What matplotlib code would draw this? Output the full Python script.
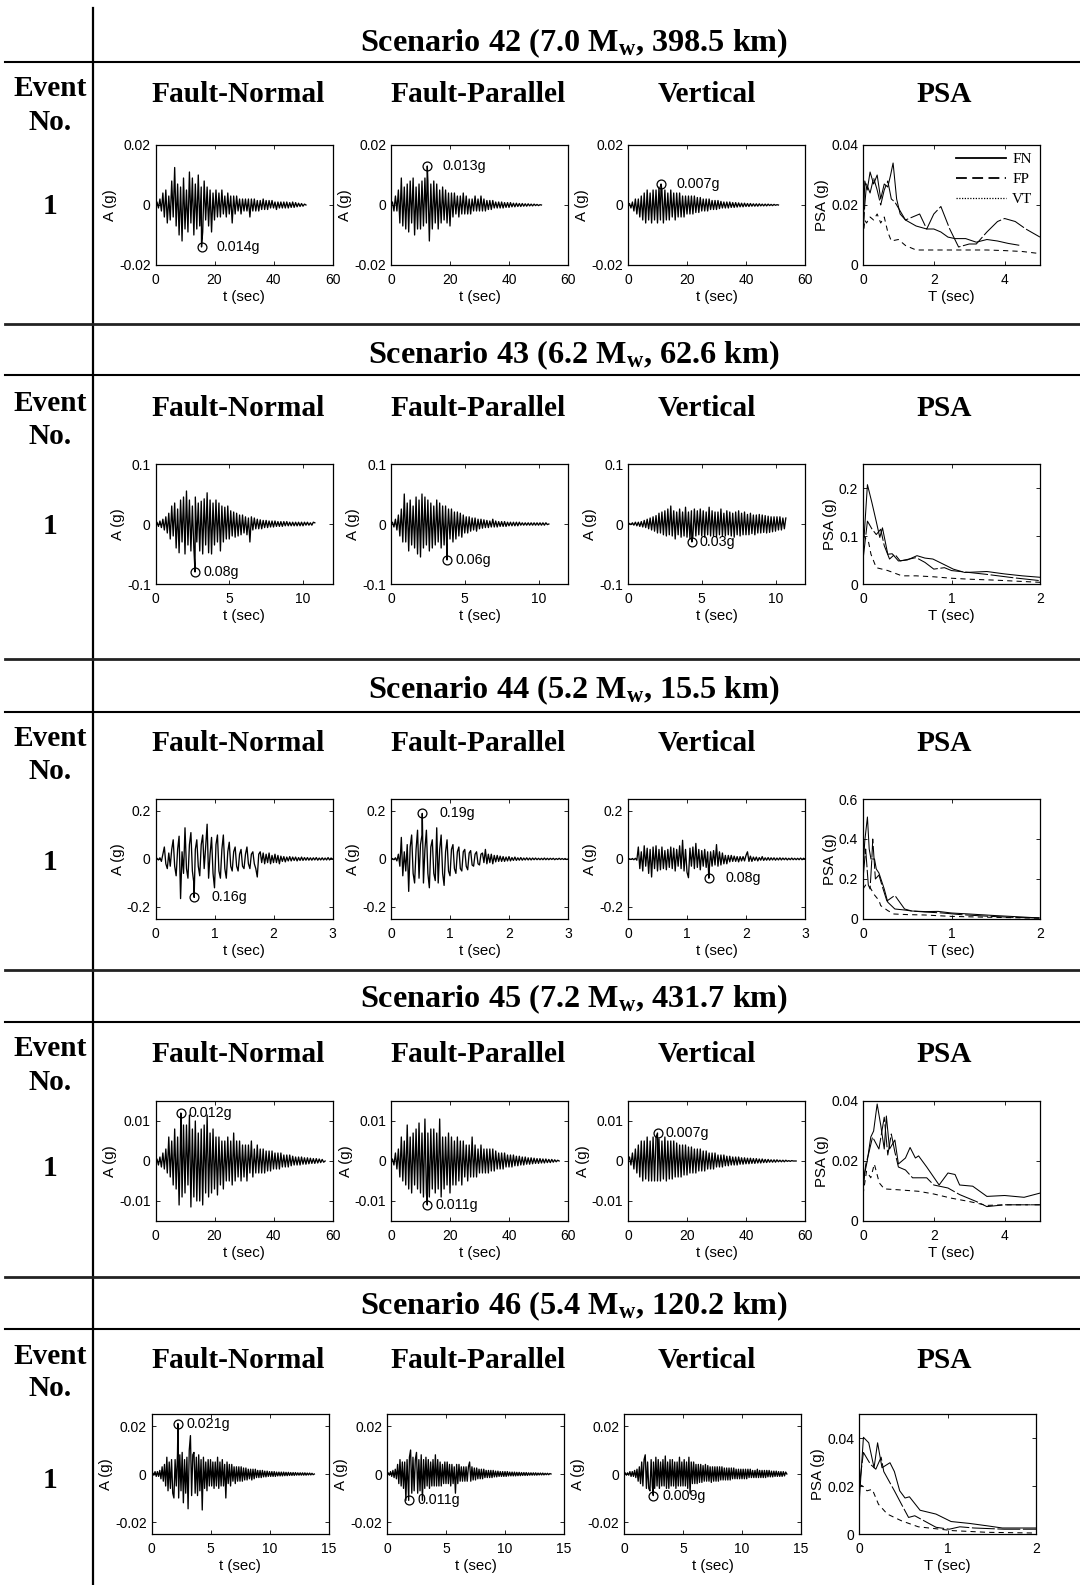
import numpy as np
import matplotlib
matplotlib.use('Agg')
import matplotlib.pyplot as plt
from matplotlib.lines import Line2D
from matplotlib.ticker import FuncFormatter

# ---------------- data ----------------
scenario_ids = [42, 43, 44, 45, 46]
magnitudes = [7.0, 6.2, 5.2, 7.2, 5.4]
distances = [398.5, 62.6, 15.5, 431.7, 120.2]
event_numbers = ['1', '1', '1', '1', '1']
column_titles = ['Fault-Normal', 'Fault-Parallel', 'Vertical', 'PSA']
psa_legend = ['FN', 'FP', 'VT']

# record durations (s) of FN, FP, VT
dur42 = [51.0, 51.0, 51.0]
dur43 = [10.8, 10.7, 10.7]
dur44 = [3.0, 3.0, 3.0]
dur45 = [57.5, 57.0, 57.0]
dur46 = [13.8, 13.9, 13.8]

# acceleration histories in mg (thousandths of g), uniformly sampled over each record
fn42 = [0, 1, -1, 2, -2, 4, -4, 5, -6, 3,
        -5, 8, -4, 12.5, -7, 7, -10, 6, -12, 9,
        -8, 5, -9, 11, -6, 9, -10, 7, -8, 10,
        -7, 6, -9, 8, -5, 6, -7, 5, -9, 4,
        -5, 5, -4, 4, -4, 5, -3, 3, -4, 4,
        -3, 3, -6, 3, -3, 3, -2, 2, -3, 2,
        -2, 2, -2, 2, -4, 2, -2, 2, -2, 1.5,
        -2, 1.5, -1.5, 2, -1.5, 1.5, -1.5, 1.5, -1, 1.5,
        -1, 1, -1.5, 1, -1, 1, -1, 1, -1, 1,
        -1, 0.8, -0.8, 1, -0.8, 0.8, -0.6, 0.6, -0.5, 0.5,
        -0.4, 0.3, 0]
fp42 = [0, 1, -2, 3, -2, 5, -6, 9, -7, 6,
        -8, 7, -9, 8, -6, 9, -10, 6, -8, 7,
        -8, 8, -7, 9, -6, 8, -12, 7, -8, 8,
        -6, 7, -8, 5, -6, 6, -5, 5, -6, 4,
        -7, 4, -4, 4, -3, 3, -4, 3, -3, 4,
        -3, 3, -3, 2, -3, 2, -2, 3, -2, 2,
        -2, 3, -2, 2, -2, 1.5, -1.5, 1.5, -1.5, 1.5,
        -1, 1, -1, 1, -1, 1, -1, 0.8, -0.8, 0.8,
        -0.8, 0.8, -0.6, 0.6, -0.6, 0.6, -0.5, 0.5, -0.5, 0.5,
        -0.4, 0.4, -0.4, 0.4, -0.3, 0.3, -0.3, 0.3, -0.2, 0.2,
        -0.2, 0.1, 0]
vt42 = [0, 0.5, -1, 1, -2, 2, -3, 2, -4, 3,
        -5, 4, -6, 5, -5, 4, -6, 5, -5, 5,
        -6, 6, -5, 5, -6, 5, -5, 4, -5, 5,
        -4, 4, -5, 4, -4, 4, -4, 3, -4, 3,
        -3, 3, -3, 3, -3, 3, -2.5, 2.5, -2.5, 2.5,
        -2, 2, -2, 2, -2, 2, -1.5, 1.5, -1.5, 1.5,
        -1.5, 1.5, -1.2, 1.2, -1, 1, -1, 1, -1, 1,
        -0.8, 0.8, -0.8, 0.8, -0.7, 0.7, -0.6, 0.6, -0.6, 0.6,
        -0.5, 0.5, -0.5, 0.5, -0.4, 0.4, -0.4, 0.4, -0.4, 0.4,
        -0.3, 0.3, -0.3, 0.3, -0.3, 0.3, -0.2, 0.2, -0.2, 0.2,
        -0.1, 0.1, 0]

fn43 = [0, 3, -4, 5, -6, 8, -10, 12, -15, 18,
        -25, 30, -20, 35, -40, 25, -48, 40, -30, 45,
        -50, 55, -35, 40, -45, 30, -40, 45, -30, 35,
        -45, 38, -50, 42, -35, 52, -48, 40, -50, 35,
        -35, 40, -30, 35, -45, 30, -30, 28, -25, 30,
        -25, 22, -20, 20, -22, 18, -20, 15, -18, 15,
        -15, 12, -18, 10, -30, 12, -10, 10, -8, 8,
        -8, 7, -8, 6, -6, 6, -6, 5, -5, 5,
        -5, 5, -4, 4, -4, 4, -4, 4, -3, 4,
        -3, 3, -3, 3, -3, 3, -3, 3, -3, 3,
        -3, 3, -2, 3, -2, 2, -2, 3, 2]
fp43 = [0, 3, -5, 8, -10, 15, -20, 25, -30, 50,
        -30, 35, -45, 40, -35, 30, -40, 45, -50, 40,
        -55, 50, -40, 45, -35, 40, -45, 35, -40, 30,
        -35, 40, -30, 35, -40, 30, -35, 30, -30, 25,
        -25, 25, -30, 20, -25, 20, -20, 18, -22, 15,
        -15, 12, -15, 12, -12, 10, -10, 10, -12, 8,
        -8, 8, -7, 7, -6, 6, -6, 5, -5, 8,
        -5, 5, -5, 4, -4, 4, -4, 4, -4, 3,
        -3, 3, -3, 3, -3, 3, -3, 3, -2, 2,
        -2, 2, -2, 2, -2, 2, -2, 2, -2, 2,
        -2, 2, -2, 2, -2, 2, -1, 0]
vt43 = [0, 1, -1, 2, -2, 3, -3, 3, -4, 4,
        -5, 6, -6, 8, -8, 10, -10, 12, -12, 14,
        -15, 18, -15, 20, -18, 22, -20, 25, -18, 30,
        -20, 22, -25, 20, -18, 25, -22, 20, -20, 28,
        -22, 20, -25, 22, -20, 25, -20, 22, -18, 25,
        -20, 22, -22, 20, -18, 28, -20, 22, -20, 20,
        -22, 20, -18, 25, -20, 18, -20, 22, -18, 20,
        -20, 18, -22, 20, -18, 22, -20, 18, -18, 20,
        -18, 16, -18, 18, -16, 15, -18, 15, -15, 16,
        -15, 15, -14, 14, -15, 13, -14, 12, -13, 12,
        -12, 12, -10, 12, -10, 10, -8, 10]

fn44 = [0, 3, -4, 5, -10, 20, 50, -20, -40, 25,
        -30, 40, 80, -30, -70, 40, 95, -165, 30, -60,
        130, -40, -80, 60, 110, -50, -100, 40, 80, -30,
        -70, 60, 100, -40, 50, 145, -80, 20, 90, -60,
        -120, 60, 100, -50, -80, 40, 100, -40, -80, 30,
        70, -30, -50, 30, 50, -30, -50, 20, 40, -30,
        -40, 20, 50, -20, -40, 20, 30, -20, -40, -75,
        20, 30, -15, 25, -20, 20, -15, 25, -20, 15,
        -15, 20, -15, 15, -20, 12, -10, 10, -12, 8,
        -8, 10, -8, 8, -6, 8, -8, 6, -6, 8,
        -6, 6, -5, 6, -5, 5, -5, 5, -4, 6,
        -5, 4, -4, 5, -4, 4, -4, 6, -4, 4,
        0]
fp44 = [0, 2, -3, 5, -8, 20, -30, 90, -70, 30,
        -50, 60, -135, 50, 100, -60, -100, 40, 120, -80,
        60, 100, -100, 40, 120, -60, -120, 50, 80, -60,
        -90, 130, -100, 40, 100, -60, -110, 30, 80, -50,
        -70, 40, 60, -40, -60, 30, 50, -40, -50, 30,
        40, -30, -45, 25, 35, -25, -30, 20, 30, -20,
        -25, 20, 25, -15, 40, -20, 20, -15, 20, -20,
        15, -12, 15, -10, 12, -10, 10, -10, 8, -8,
        10, -8, 6, -6, 8, -6, 5, -5, 6, -5,
        4, -4, 5, -4, 4, -4, 4, -3, 4, -3,
        3, -3, 3, -3, 4, -3, 3, -3, 3, -2,
        3, -3, 2, -2, 3, -2, 2, -2, 2, -2,
        0]
vt44 = [0, 1, -2, 2, -3, 3, -5, 50, -40, 30,
        -50, 55, -30, 45, -60, 40, -75, 50, -40, 55,
        -50, 40, -45, 50, -40, 35, -45, 40, -35, 50,
        -40, 45, -50, 40, -30, 55, -40, 78, -50, 40,
        -55, -78, 45, -30, 50, -40, 65, -35, 40, -45,
        35, -30, 40, -35, 30, -50, 30, -30, 35, -25,
        60, -30, 30, -25, 25, -20, 15, -20, 15, -12,
        15, -10, 12, -10, 10, -12, 10, -8, 10, -8,
        15, 30, -10, 12, -10, 8, -6, 8, -8, 6,
        -5, 10, -6, 5, -5, 6, -5, 5, -4, 5,
        -5, 4, -4, 5, -4, 4, -3, 4, -4, 3,
        -3, 4, -3, 3, -3, 3, -3, 4, -3, 3,
        0]

fn45 = [0, 0.5, -1, 1, -1.5, 2, -2, 3, -3, 6,
        -4, 5, -6, 8, -7, 6, -11, 7, -9, 9,
        -8, 9, -6, 11.5, -11.5, 8, -9, 10, -10, 7,
        -10, 8, -11, 9, -8, 11.5, -9, 7, -8, 8,
        -7, 6, -8.5, 6, -6, 5, -7, 5, -5, 6,
        -5, 5, -6, 7, -5, 5, -4, 5, -5, 4,
        -4, 4, -5, 4, -3, 5, -4, 3, -3, 4,
        -3, 3, -3, 3, -3, 2.5, -2.5, 2.5, -2.5, 2.5,
        -2, 2, -2, 2, -2, 2, -1.5, 1.5, -1.5, 1.5,
        -1.5, 1.5, -1.2, 1.2, -1, 1, -1, 1, -1, 1,
        -0.8, 0.8, -0.8, 0.8, -0.7, 0.7, -0.6, 0.6, -0.6, 0.6,
        -0.5, 0.5, -0.4, 0.4, -0.3, 0]
fp45 = [0, 0.5, -1, 2, -2, 3, -4, 6, -5, 5,
        -6, 9, -7, 6, -8, 7, -6, 8, -7, 9.5,
        -8, 7, -9, 10.5, -8, 7, -9, 8, -7, 8,
        -8, 7, -7, 10.5, -9, 6, -7, 6, -6, 7,
        -8, 6, -6, 5, -6, 6, -5, 5, -6, 5,
        -4, 4, -5, 4, -4, 6, -4, 4, -4, 3,
        -3, 4, -3, 3, -3, 3, -3, 3, -2.5, 3,
        -2.5, 2.5, -2, 2, -2, 2, -2, 2, -1.5, 1.5,
        -1.5, 1.5, -1.5, 1.5, -1.2, 1.2, -1.2, 1.2, -1, 1,
        -1, 1, -0.8, 0.8, -0.8, 0.8, -0.7, 0.7, -0.6, 0.6,
        -0.6, 0.6, -0.5, 0.5, -0.5, 0.5, -0.4, 0.4, -0.4, 0.4,
        -0.3, 0.3, -0.2, 0.2, 0]
vt45 = [0, 1, -1, 2, -2, 3, -3, 4, -4, 5,
        -5, 5, -4.5, 6, -5, 5, -5, 6, -5, 6,
        -5, 5.5, -5, 5, -4.5, 6, -5, 5, -4.5, 5,
        -4.5, 5, -4, 4.5, -4, 4, -4, 4, -3.5, 4,
        -3.5, 3.5, -3, 3.5, -3, 3, -3, 3, -2.5, 3,
        -2.5, 2.5, -2.5, 2.5, -2, 2, -2, 2, -2, 2,
        -1.5, 1.5, -1.5, 1.5, -1.5, 1.5, -1.2, 1.2, -1.2, 1.2,
        -1, 1, -1, 1, -1, 1, -0.8, 0.8, -0.8, 0.8,
        -0.7, 0.7, -0.7, 0.7, -0.6, 0.6, -0.6, 0.6, -0.5, 0.5,
        -0.5, 0.5, -0.4, 0.4, -0.4, 0.4, -0.3, 0.3, -0.3, 0.3,
        -0.3, 0.3, -0.2, 0.2, -0.2, 0.2, -0.2, 0.2, -0.1, 0.1,
        -0.1, 0.1, 0, 0, 0]

fn46 = [0, 0.5, -0.5, 1, -1, 1, -1, 1.5, -2, 3,
        -3, 4, -5, 7, -7, 5, -6, 6, -8, -10,
        6, -5, 8, -10, 8, -7, 9, -12, 6, -8,
        7, -14.5, 10, 16, -9, 8, 9, -8, 7, -9,
        8, -7, 6, -15, 7, -6, 5, -7, 6, -5,
        6, -5, 5, -6, 5, -5, 7, -6, 5, -5,
        6, -5, 4, -10, 5, -4, 4, -5, 4, -3,
        3, -4, 3, -3, 3, -3, 3, -3, 2.5, -2.5,
        2.5, -2.5, 2, -2, 2, -2.5, 2, -2, 2, -1.5,
        1.5, -1.5, 1.5, -1.5, 1.5, -1.2, 1.2, -1.2, 1.2, -1,
        1, -1, 1, -1, 1, -1, 0.8, -0.8, 0.8, -0.8,
        0.8, -0.8, 0.8, -0.7, 0.7, -0.7, 0.7, -0.6, 0.6, -0.6,
        0.6, -0.6, 0.6, -0.5, 0.5, -0.5, 0.5, -0.5, 0.5, -0.5,
        0.5, -0.5, 0.4, -0.4, 0.4, -0.4, 0.3, -0.3, 0]
fp46 = [0, 0.5, -0.5, 1, -1, 1.5, -1.5, 2, -2, 4,
        -4, 6, -5, 5, -6, 5, -11, 6, -7, 7,
        10, -8, 7, -7, 6, 9, -8, 6, -7, 8,
        -11, 6, -6, 7, -5, 6, -6, 5, -5, 6,
        -5, 8, -5, 6, -5, 5, -5, 4, -4, 5,
        -4, 5, -4, 4, -5, 4, -4, 3, -8, 4,
        -4, 4, -3, 3, -3, 3, -3, 3, -3, 3,
        5, -3, 3, -2.5, 2.5, -2.5, 2.5, -2, 2, -2,
        2, -2, 2, -1.5, 1.5, -1.5, 1.5, -1.5, 1.5, -1.5,
        1.5, -1.2, 1.2, -1.2, 1.2, -1, 1, -1, 1, -1,
        1, -1, 1, -0.8, 0.8, -0.8, 0.8, -0.8, 0.8, -0.8,
        0.7, -0.7, 0.7, -0.7, 0.6, -0.6, 0.6, -0.6, 0.6, -0.6,
        0.5, -0.5, 0.5, -0.5, 0.5, -0.5, 0.5, -0.5, 0.4, -0.4,
        0.4, -0.4, 0.4, -0.4, 0.3, -0.3, 0.3, -0.3, 0.2, 0]
vt46 = [0, 0.5, -0.5, 0.5, -0.5, 1, -1, 1, -1, 1.5,
        -1.5, 2, -3, 3, -4, 5, -5, 6, 8, -6,
        5, -6, -7, 6, -5, 5, -6, 7, -5, 6,
        -6, 5, -5, 6, -5, 7.5, -6, 5, -6, 6,
        -5, 6, -5, 5, -6, 5, -5, 7, -5, 5,
        -5, 6, -5, 5, -6, 7, -8, 5, -4, 5,
        -4, 4, -4, 4, -3.5, 4, -3.5, 3.5, -3, 4,
        -3, 3.5, -3, 3, -3.5, 3, -3, 3, -3, 3,
        -3, 3, -2.5, 3, -2.5, 2.5, -2.5, 2.5, -2.5, 2.5,
        -2.5, 2.5, -2, 2.5, -2, 2, -2, 2, -2, 2,
        -2, 2, -2, 2, -2, 2, -1.5, 2, -1.5, 1.5,
        -1.5, 1.5, -1.5, 2, -1.5, 1.5, -1.5, 1.5, -1.5, 1.5,
        -1.5, 1.5, -1.2, 1.5, -1.2, 1.2, -1.2, 1.2, -1, 1.2,
        -1, 1, -1, 1, -1, 1, -0.8, 0.8, 0]

# annotated peaks: time (s) and acceleration (mg) for FN, FP, VT
peak_t42 = [15.6, 12.3, 11.2]
peak_a42 = [-14, 13, 7]
peak_t43 = [2.68, 3.8, 4.33]
peak_a43 = [-80, -60, -30]
peak_t44 = [0.655, 0.53, 1.37]
peak_a44 = [-160, 190, -80]
peak_t45 = [8.6, 12.3, 10.0]
peak_a45 = [12, -11, 7]
peak_t46 = [2.24, 1.84, 2.48]
peak_a46 = [21, -11, -9]

# pseudo-spectral acceleration (g) vs period T (s)
psaT42_fn = [0, 0.05, 0.12, 0.2, 0.3, 0.4, 0.5, 0.6, 0.7, 0.78, 0.85, 0.95, 1.05, 1.2,
             1.35, 1.5, 1.65, 1.8, 2.0, 2.2, 2.4, 2.6, 2.9, 3.2, 3.5, 3.8, 4.1, 4.4]
psa42_fn = [0.0093, 0.028, 0.025, 0.031, 0.027, 0.030, 0.022, 0.027, 0.026, 0.030, 0.034, 0.022,
            0.017, 0.015, 0.014, 0.013, 0.0125, 0.012, 0.012, 0.011, 0.0093, 0.0088, 0.0088,
            0.0076, 0.0085, 0.008, 0.0072, 0.0066]
psaT42_fp = [0, 0.05, 0.1, 0.2, 0.3, 0.4, 0.5, 0.6, 0.7, 0.8, 0.9, 1.0, 1.2, 1.4, 1.6, 1.8,
             2.0, 2.2, 2.45, 2.7, 3.0, 3.2, 3.5, 3.8, 4.0, 4.3, 4.6, 5.0]
psa42_fp = [0.010, 0.020, 0.027, 0.024, 0.029, 0.025, 0.020, 0.025, 0.028, 0.022, 0.021, 0.019,
            0.015, 0.016, 0.017, 0.012, 0.017, 0.0195, 0.012, 0.006, 0.007, 0.007, 0.011,
            0.0145, 0.0155, 0.0145, 0.012, 0.0093]
psaT42_vt = [0, 0.05, 0.1, 0.2, 0.3, 0.4, 0.5, 0.6, 0.7, 0.8, 1.0, 1.2, 1.5, 2.0, 2.5, 3.0,
             3.5, 4.0, 4.5, 5.0]
psa42_vt = [0.009, 0.015, 0.014, 0.016, 0.015, 0.017, 0.014, 0.016, 0.011, 0.008, 0.0085,
            0.0065, 0.005, 0.005, 0.005, 0.005, 0.005, 0.0048, 0.0045, 0.0038]

psaT43_fn = [0, 0.05, 0.1, 0.15, 0.19, 0.22, 0.28, 0.33, 0.4, 0.5, 0.61, 0.7, 0.79, 0.9,
             1.02, 1.15, 1.4, 1.6, 1.8, 2.0]
psa43_fn = [0.062, 0.207, 0.17, 0.13, 0.097, 0.117, 0.062, 0.063, 0.048, 0.05, 0.059, 0.054,
            0.052, 0.042, 0.031, 0.024, 0.026, 0.021, 0.017, 0.014]
psaT43_fp = [0, 0.05, 0.1, 0.15, 0.2, 0.24, 0.3, 0.36, 0.42, 0.6, 0.7, 0.8, 0.92, 1.0, 1.2,
             1.4, 1.7, 2.0]
psa43_fp = [0.05, 0.131, 0.115, 0.103, 0.114, 0.08, 0.052, 0.062, 0.048, 0.055, 0.045, 0.031,
            0.034, 0.028, 0.024, 0.02, 0.013, 0.007]
psaT43_vt = [0, 0.03, 0.06, 0.09, 0.15, 0.28, 0.44, 0.6, 0.8, 1.0, 1.2, 1.5, 2.0]
psa43_vt = [0.103, 0.095, 0.09, 0.062, 0.034, 0.028, 0.017, 0.017, 0.015, 0.012, 0.01, 0.008,
            0.0035]

psaT44_fn = [0, 0.02, 0.05, 0.07, 0.09, 0.13, 0.15, 0.18, 0.24, 0.28, 0.36, 0.47, 0.55, 0.7,
             0.85, 1.0, 1.2, 1.5, 1.8, 2.0]
psa44_fn = [0.24, 0.39, 0.51, 0.35, 0.3, 0.3, 0.25, 0.23, 0.15, 0.084, 0.05, 0.045, 0.04,
            0.037, 0.038, 0.03, 0.025, 0.017, 0.01, 0.005]
psaT44_fp = [0, 0.03, 0.06, 0.08, 0.1, 0.11, 0.14, 0.18, 0.22, 0.27, 0.36, 0.47, 0.55, 0.7,
             0.9, 1.1, 1.4, 1.7, 2.0]
psa44_fp = [0.2, 0.35, 0.17, 0.15, 0.3, 0.4, 0.2, 0.22, 0.16, 0.09, 0.118, 0.05, 0.04, 0.035,
            0.03, 0.022, 0.014, 0.008, 0.005]
psaT44_vt = [0, 0.03, 0.06, 0.09, 0.13, 0.18, 0.2, 0.28, 0.35, 0.5, 0.7, 1.0, 1.4, 2.0]
psa44_vt = [0.15, 0.17, 0.17, 0.15, 0.12, 0.093, 0.067, 0.042, 0.025, 0.022, 0.02, 0.013,
            0.009, 0.004]

psaT45_fn = [0, 0.05, 0.12, 0.22, 0.3, 0.4, 0.5, 0.6, 0.66, 0.75, 0.9, 1.0, 1.2, 1.33, 1.48,
             1.57, 1.8, 2.15, 2.4, 2.6, 2.73, 3.1, 3.5, 4.0, 4.55, 5.0]
psa45_fn = [0.0099, 0.016, 0.02, 0.028, 0.03, 0.039, 0.032, 0.024, 0.035, 0.024, 0.027, 0.019,
            0.021, 0.0245, 0.021, 0.0217, 0.018, 0.012, 0.016, 0.0155, 0.012, 0.0116, 0.0082,
            0.0085, 0.0079, 0.0093]
psaT45_fp = [0, 0.08, 0.15, 0.27, 0.45, 0.6, 0.7, 0.8, 0.9, 1.0, 1.2, 1.4, 1.8, 2.0, 2.4,
             2.73, 3.2, 3.5, 4.0, 5.0]
psa45_fp = [0.012, 0.019, 0.022, 0.028, 0.024, 0.0346, 0.022, 0.029, 0.023, 0.018, 0.017,
            0.0144, 0.0144, 0.012, 0.011, 0.0088, 0.0065, 0.0048, 0.0054, 0.0054]
psaT45_vt = [0, 0.1, 0.22, 0.32, 0.46, 0.6, 1.0, 1.57, 2.0, 2.5, 3.0, 3.5, 4.0, 5.0]
psa45_vt = [0.0088, 0.0166, 0.0144, 0.019, 0.0127, 0.0107, 0.0104, 0.0099, 0.009, 0.0076,
            0.0065, 0.0052, 0.0054, 0.0054]

psaT46_fn = [0, 0.05, 0.11, 0.17, 0.21, 0.26, 0.35, 0.4, 0.46, 0.52, 0.57, 0.69, 0.87, 1.04,
             1.25, 1.45, 1.62, 2.0]
psa46_fn = [0.012, 0.0403, 0.038, 0.0276, 0.038, 0.0276, 0.0297, 0.026, 0.018, 0.015, 0.0155,
            0.0099, 0.0083, 0.0052, 0.0044, 0.0034, 0.0025, 0.0025]
psaT46_fp = [0, 0.05, 0.13, 0.19, 0.25, 0.28, 0.34, 0.4, 0.48, 0.56, 0.63, 0.87, 1.02, 1.14,
             1.3, 1.64, 2.0]
psa46_fp = [0.019, 0.034, 0.029, 0.027, 0.032, 0.026, 0.022, 0.018, 0.0124, 0.0069, 0.0076,
            0.0028, 0.002, 0.003, 0.0025, 0.002, 0.002]
psaT46_vt = [0, 0.04, 0.09, 0.15, 0.22, 0.32, 0.48, 0.67, 1.06, 1.45, 2.0]
psa46_vt = [0.0207, 0.02, 0.018, 0.0186, 0.0124, 0.0083, 0.0055, 0.003, 0.0014, 0.0007,
            0.0004]

# axis ranges / ticks
acc_lim = [0.02, 0.1, 0.25, 0.015, 0.025]
acc_ticks = [[-0.02, 0, 0.02], [-0.1, 0, 0.1], [-0.2, 0, 0.2], [-0.01, 0, 0.01], [-0.02, 0, 0.02]]
time_lim = [60, 12, 3, 60, 15]
time_ticks = [[0, 20, 40, 60], [0, 5, 10], [0, 1, 2, 3], [0, 20, 40, 60], [0, 5, 10, 15]]
psa_lim = [0.04, 0.25, 0.6, 0.04, 0.05]
psa_ticks = [[0, 0.02, 0.04], [0, 0.1, 0.2], [0, 0.2, 0.4, 0.6], [0, 0.02, 0.04], [0, 0.02, 0.04]]
period_lim = [5, 2, 2, 5, 2]
period_ticks = [[0, 2, 4], [0, 1, 2], [0, 1, 2], [0, 2, 4], [0, 1, 2]]

acc_series = [[fn42, fp42, vt42], [fn43, fp43, vt43], [fn44, fp44, vt44],
              [fn45, fp45, vt45], [fn46, fp46, vt46]]
durations = [dur42, dur43, dur44, dur45, dur46]
peak_times = [peak_t42, peak_t43, peak_t44, peak_t45, peak_t46]
peak_accs = [peak_a42, peak_a43, peak_a44, peak_a45, peak_a46]
psa_T = [[psaT42_fn, psaT42_fp, psaT42_vt], [psaT43_fn, psaT43_fp, psaT43_vt],
         [psaT44_fn, psaT44_fp, psaT44_vt], [psaT45_fn, psaT45_fp, psaT45_vt],
         [psaT46_fn, psaT46_fp, psaT46_vt]]
psa_vals = [[psa42_fn, psa42_fp, psa42_vt], [psa43_fn, psa43_fp, psa43_vt],
            [psa44_fn, psa44_fp, psa44_vt], [psa45_fn, psa45_fp, psa45_vt],
            [psa46_fn, psa46_fp, psa46_vt]]

# ---------------- layout (pixels) ----------------
W, H = 1080, 1585
axes_top = [145, 464, 799, 1101, 1414]
axes_left = [[155.5, 391, 628, 863]] * 4 + [[151.5, 387, 624, 859]]
AX_W, AX_H = 177, 120
title_y = [43, 355, 690, 999, 1306]
colhead_y = [94, 409, 744, 1055, 1361]
event_y = [89, 404, 739, 1049, 1356]
one_y = [207, 526, 863, 1169, 1481]
header_lines = [62, 375, 712, 1022, 1329]
sep_lines = [323.5, 659.5, 970, 1276.5]
colhead_x = [238, 478, 707, 944]
label_off = [10.8, 5.8, 12.2, 5.8, 6.5]   # points, annotation text offset

plt.rcParams['font.family'] = ['Liberation Sans', 'DejaVu Sans']
plt.rcParams['axes.unicode_minus'] = False
plt.rcParams['mathtext.fontset'] = 'custom'
plt.rcParams['mathtext.rm'] = 'Liberation Serif:bold'
plt.rcParams['mathtext.it'] = 'Liberation Serif:bold:italic'
plt.rcParams['mathtext.bf'] = 'Liberation Serif:bold'

fig = plt.figure(figsize=(W / 100, H / 100), dpi=100)
fig.patch.set_facecolor('white')

SERIF = 'Liberation Serif'
TICK_FS, LAB_FS, ANN_FS = 10, 10.8, 10.3
HEAD_FS = 21.2


def fx(x):
    return x / W


def fy(y):
    return 1 - y / H


# table lines
fig.add_artist(Line2D([fx(93), fx(93)], [fy(7.5), fy(H)], color='black', lw=1.6))
for y in header_lines:
    fig.add_artist(Line2D([fx(5), 1], [fy(y), fy(y)], color='black', lw=1.5))
for y in sep_lines:
    fig.add_artist(Line2D([fx(5), 1], [fy(y), fy(y)], color='#222222', lw=2.0))

fmt = FuncFormatter(lambda v, p: f'{v:g}')


def style_axes(ax):
    for s in ax.spines.values():
        s.set_linewidth(0.9)
    ax.tick_params(direction='in', top=True, right=True, length=3, width=0.6,
                   labelsize=TICK_FS)
    ax.tick_params(axis='x', pad=6)
    ax.tick_params(axis='y', pad=3.5)
    ax.xaxis.set_major_formatter(fmt)
    ax.yaxis.set_major_formatter(fmt)


for b in range(5):
    title = (f'Scenario {scenario_ids[b]} ({magnitudes[b]:.1f} M$_{{\\mathrm{{w}}}}$, '
             f'{distances[b]:.1f} km)')
    fig.text(fx(574), fy(title_y[b]), title, ha='center', va='center',
             fontfamily=SERIF, fontweight='bold', fontsize=23.2)
    for c in range(4):
        fig.text(fx(colhead_x[c]), fy(colhead_y[b]), column_titles[c], ha='center',
                 va='center', fontfamily=SERIF, fontweight='bold', fontsize=HEAD_FS)
    fig.text(fx(50), fy(event_y[b]), 'Event', ha='center', va='center',
             fontfamily=SERIF, fontweight='bold', fontsize=HEAD_FS)
    fig.text(fx(50), fy(event_y[b] + 33), 'No.', ha='center', va='center',
             fontfamily=SERIF, fontweight='bold', fontsize=HEAD_FS)
    fig.text(fx(50), fy(one_y[b]), event_numbers[b], ha='center', va='center',
             fontfamily=SERIF, fontweight='bold', fontsize=HEAD_FS)

    # time histories
    for c in range(3):
        l = axes_left[b][c]
        ax = fig.add_axes([fx(l), fy(axes_top[b] + AX_H), AX_W / W, AX_H / H])
        vals = np.asarray(acc_series[b][c], dtype=float) / 1000.0
        t = np.linspace(0, durations[b][c], len(vals))
        pt, pa = peak_times[b][c], peak_accs[b][c] / 1000.0
        k = np.searchsorted(t, pt)
        t = np.insert(t, k, pt)
        vals = np.insert(vals, k, pa)
        ax.plot(t, vals, color='black', lw=0.95)
        ax.plot([pt], [pa], 'o', mfc='none', mec='black', ms=6.4, mew=0.9)
        ax.annotate(f'{abs(peak_accs[b][c]) / 1000:g}g', (pt, pa),
                    xytext=(label_off[b], 0), textcoords='offset points',
                    ha='left', va='center', fontsize=ANN_FS)
        ax.set_xlim(0, time_lim[b])
        ax.set_ylim(-acc_lim[b], acc_lim[b])
        ax.set_xticks(time_ticks[b])
        ax.set_yticks(acc_ticks[b])
        style_axes(ax)
        ax.set_xlabel('t (sec)', fontsize=LAB_FS, labelpad=2)
        ax.set_ylabel('A (g)', fontsize=LAB_FS, labelpad=1.5)

    # PSA
    l = axes_left[b][3]
    ax = fig.add_axes([fx(l), fy(axes_top[b] + AX_H), AX_W / W, AX_H / H])
    ax.plot(psa_T[b][0], psa_vals[b][0], color='black', lw=0.75)
    ax.plot(psa_T[b][1], psa_vals[b][1], color='black', lw=0.75, dashes=(22, 2.5))
    ax.plot(psa_T[b][2], psa_vals[b][2], color='black', lw=0.75, dashes=(5, 4))
    ax.set_xlim(0, period_lim[b])
    ax.set_ylim(0, psa_lim[b])
    ax.set_xticks(period_ticks[b])
    ax.set_yticks(psa_ticks[b])
    style_axes(ax)
    ax.set_xlabel('T (sec)', fontsize=LAB_FS, labelpad=2)
    ax.set_ylabel('PSA (g)', fontsize=LAB_FS, labelpad=1.5)
    if b == 0:
        handles = [Line2D([], [], color='black', lw=1.3),
                   Line2D([], [], color='black', lw=1.3, dashes=(6, 3)),
                   Line2D([], [], color='black', lw=0.9, dashes=(1, 1.2))]
        ax.legend(handles, psa_legend, loc='upper right', frameon=False,
                  prop={'family': SERIF, 'size': 11}, handlelength=3.3,
                  handletextpad=0.4, labelspacing=0.4, borderaxespad=0.2,
                  borderpad=0.3)

fig.savefig('out.png', dpi=100)
